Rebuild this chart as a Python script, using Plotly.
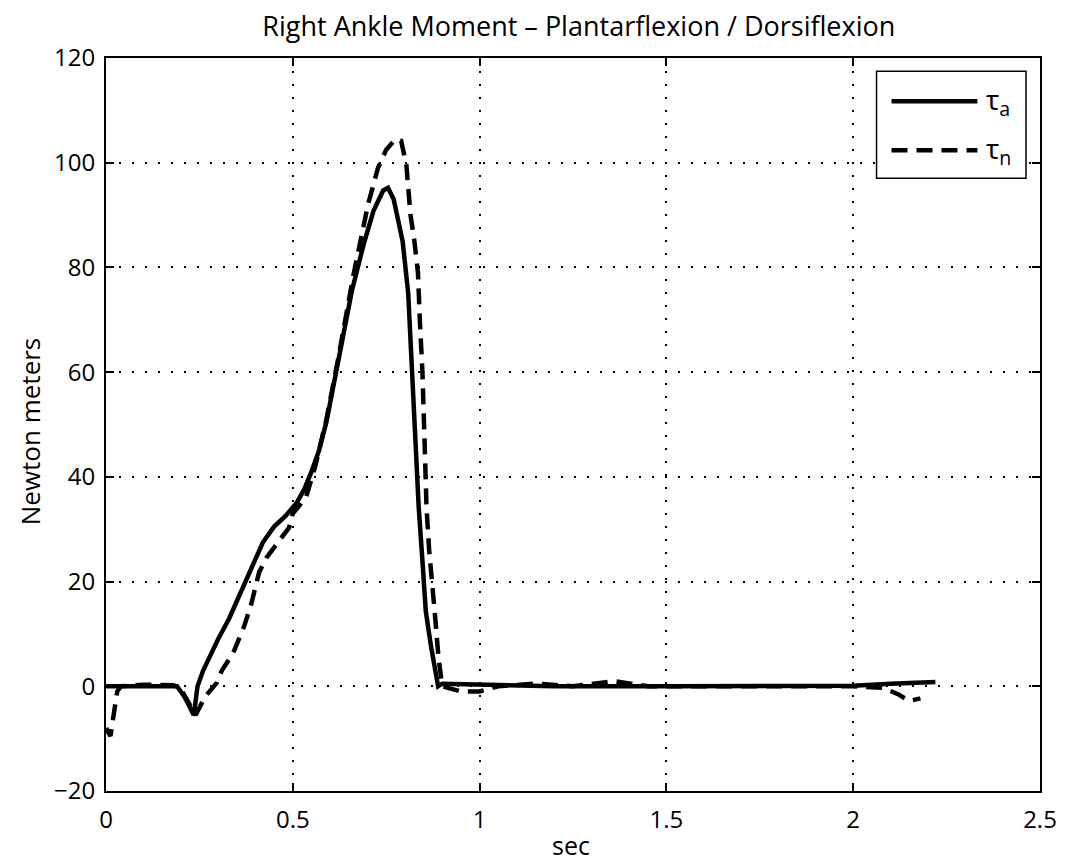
import plotly.graph_objects as go

# ---- data ----
t_a_x = [0, 0.05, 0.10, 0.15, 0.19, 0.21, 0.235, 0.245, 0.26, 0.28, 0.30, 0.33, 0.36, 0.39,
         0.42, 0.45, 0.48, 0.51, 0.53, 0.55, 0.57, 0.59, 0.616, 0.64, 0.658, 0.69, 0.716,
         0.742, 0.755, 0.77, 0.78, 0.794, 0.809, 0.818, 0.828, 0.837, 0.847, 0.856, 0.87,
         0.889, 0.90, 1.0, 1.2, 1.5, 1.8, 2.0, 2.1, 2.22]
t_a_y = [0, 0, 0.2, 0.2, 0, -2, -5.5, 0, 3, 6, 9, 13, 18, 23,
         27.5, 30.5, 32.5, 35, 37.5, 41, 45, 50.5, 60, 69, 75.5, 84.5, 90.8,
         94.7, 95.2, 93, 90, 85, 75, 61.5, 47.7, 34.2, 24, 14.3, 7.6,
         0, 0.5, 0.3, 0, 0, 0, 0.1, 0.5, 0.8]

t_n_x = [0, 0.012, 0.03, 0.04, 0.10, 0.18, 0.20, 0.22, 0.24, 0.265, 0.296, 0.31, 0.34, 0.37,
         0.39, 0.40, 0.41, 0.43, 0.46, 0.49, 0.50, 0.535, 0.56, 0.59, 0.62, 0.645, 0.663,
         0.683, 0.702, 0.728, 0.75, 0.775, 0.79, 0.804, 0.815, 0.825, 0.835, 0.84, 0.847,
         0.853, 0.858, 0.865, 0.873, 0.882, 0.89, 0.90, 0.95, 1.0, 1.05, 1.15, 1.25, 1.36,
         1.45, 1.8, 2.0, 2.08, 2.12, 2.15, 2.18]
t_n_y = [-8, -9.5, -1, 0, 0.3, 0.2, -0.5, -3, -5.5, -2, 0.6, 3, 6.3, 11.5,
         16, 19, 21.8, 24.6, 27.5, 30.3, 33, 36, 42, 51, 62, 72, 78.8,
         85.7, 92.2, 99, 102.5, 104.5, 104.2, 99.6, 90, 85.3, 79, 70, 60,
         46, 34, 26, 18.5, 12.4, 5.5, 0, -1, -1, 0, 0.5, 0, 1,
         0, 0, 0, -0.3, -1.5, -2.8, -2.3]

series_names = ["\u03c4<sub>a</sub>", "\u03c4<sub>n</sub>"]

x_ticks = [0, 0.5, 1, 1.5, 2, 2.5]
x_tick_labels = ["0", "0.5", "1", "1.5", "2", "2.5"]
y_ticks = [-20, 0, 20, 40, 60, 80, 100, 120]
y_tick_labels = ["\u221220", "0", "20", "40", "60", "80", "100", "120"]

FONT = "Open Sans"
DASH = "16px,9px"

fig = go.Figure()
fig.add_trace(go.Scatter(x=t_a_x, y=t_a_y, mode="lines", name=series_names[0],
                         line=dict(color="black", width=4.5), showlegend=False))
fig.add_trace(go.Scatter(x=t_n_x, y=t_n_y, mode="lines", name=series_names[1],
                         line=dict(color="black", width=4.5, dash=DASH), showlegend=False))

axis_common = dict(
    showline=True, linecolor="black", linewidth=2, mirror="ticks",
    ticks="inside", ticklen=8, tickwidth=1.5, tickcolor="black",
    showgrid=True, gridcolor="black", gridwidth=1.5, griddash="2px,11px",
    zeroline=False, tickfont=dict(family=FONT, size=24, color="black"),
    ticklabeloverflow="allow",
)

fig.update_xaxes(range=[0, 2.5], tickvals=x_ticks, ticktext=x_tick_labels,
                 ticklabelstandoff=6, **axis_common)
fig.update_yaxes(range=[-20, 120], tickvals=y_ticks, ticktext=y_tick_labels,
                 ticklabelstandoff=4, **axis_common)

# axis titles as annotations (placed relative to the plot domain)
fig.add_annotation(xref="paper", yref="paper", x=0.498, y=-0.074, xanchor="center", yanchor="middle",
                   text="sec", showarrow=False, font=dict(family=FONT, size=25, color="black"))
fig.add_annotation(xref="paper", yref="paper", x=-0.082, y=0.49, xanchor="center", yanchor="middle",
                   text="Newton meters", textangle=-90, showarrow=False,
                   font=dict(family=FONT, size=26, color="black"))

# legend box drawn in axis-domain (paper) coordinates
fig.add_shape(type="rect", xref="paper", yref="paper", x0=0.825, x1=0.985, y0=0.836, y1=0.982,
              line=dict(color="black", width=1.5), fillcolor="white", layer="above")
fig.add_shape(type="line", xref="paper", yref="paper", x0=0.841, x1=0.933, y0=0.941, y1=0.941,
              line=dict(color="black", width=4.5), layer="above")
fig.add_shape(type="line", xref="paper", yref="paper", x0=0.841, x1=0.933, y0=0.874, y1=0.874,
              line=dict(color="black", width=4.5, dash=DASH), layer="above")
fig.add_annotation(xref="paper", yref="paper", x=0.940, y=0.941, xanchor="left", yanchor="middle",
                   text=series_names[0], showarrow=False,
                   font=dict(family=FONT, size=28, color="black"))
fig.add_annotation(xref="paper", yref="paper", x=0.940, y=0.874, xanchor="left", yanchor="middle",
                   text=series_names[1], showarrow=False,
                   font=dict(family=FONT, size=28, color="black"))

# page has an 8px body margin: figure spans 1061x857 starting at (8, 8)
fig.update_layout(
    width=1061, height=857,
    paper_bgcolor="white", plot_bgcolor="white",
    margin=dict(l=98, r=15, t=50, b=74),
    title=dict(text="Right Ankle Moment \u2013 Plantarflexion / Dorsiflexion",
               font=dict(family=FONT, size=27, color="black"),
               x=0.538, xanchor="center", y=0.978, yanchor="middle"),
    showlegend=False,
)

fig.write_html("out.html")
